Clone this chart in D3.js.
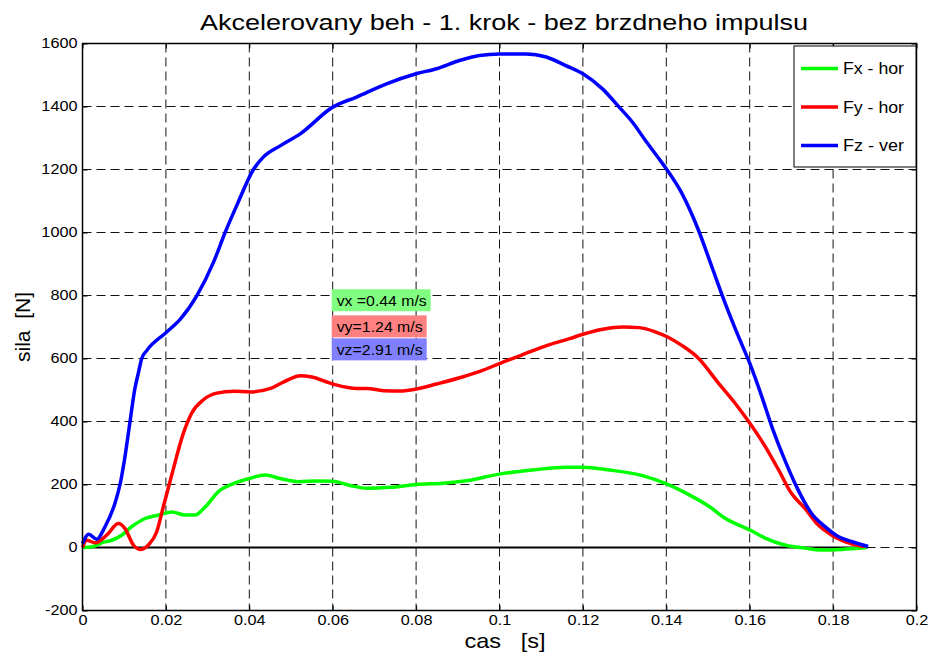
<!DOCTYPE html>
<html><head><meta charset="utf-8">
<script src="https://cdn.jsdelivr.net/npm/d3@7"></script>
<style>body{margin:0;background:#fff}svg{display:block;font-family:"Liberation Sans",Arial,sans-serif}</style>
</head><body><svg id="c" width="931" height="653"></svg>
<script>
// ---- data (time in ms, force in N) ----
const fxT = [0,2.2,4.6,7.0,9.4,11.8,15.0,18.2,21.4,24.6,27,29,33,36.2,40,43.8,47.4,51.8,56.3,60,64.2,68.2,73.8,80,86.5,92.1,100,108,116,120,126.4,134.3,140.2,145.5,150.3,154.1,160,163.7,168.4,173.2,177,182,188];
const fxV = [0,2,15,23,39,66,92,103,113,103,103,123,182,203,219,230,219,209,211,210,197,188,191,200,204,212,233,246,255,255,246,228,201,167,130,93,56,30,8,-2,-8,-6,0];
const fyT = [0,1.0,3.0,5.8,8.6,10.2,12.2,13.8,15.8,17.8,19.4,21.4,24.2,26.2,29,32.2,36.2,40.3,45.1,48.3,52.3,54.7,60,65.8,68.2,72.2,76.2,80,84.9,91.3,96.1,100,105.7,112,116.8,120,124.8,129.6,133.5,137.5,140.2,143.9,147.7,152.5,156.5,160,163.7,166.9,170,173.2,176.4,179.6,182.8,187.6];
const fyV = [0,23,15,39,76,60,8,-6,8,50,130,230,363,427,469,490,496,494,505,526,545,542,519,505,505,498,497,503,519,542,563,584,613,644,663,677,693,700,698,684,669,640,601,522,458,395,321,247,172,125,72,40,19,3];
const fzT = [0,1.5,3.4,5.4,7.8,9,10.2,11.4,12.5,13.5,14.2,15.4,20,23.4,27.4,31.4,34.2,37,41,43.4,47.4,52.2,60,65.7,72.9,80,84.9,90.4,95.2,100,106.4,111.2,115.9,120,124.7,128.7,131.9,135,138.2,140,143.7,147.7,150.9,154.1,157.3,160,162.9,165.3,168.4,171.6,174.8,178,181.2,184.4,188.4];
const fzV = [12,42,26,66,141,200,290,400,500,560,600,625,682,724,799,905,1000,1086,1200,1240,1275,1313,1398,1430,1472,1504,1520,1546,1562,1567,1567,1557,1530,1504,1456,1398,1350,1292,1235,1202,1125,1008,892,776,670,585,479,384,278,183,109,67,35,19,3];
const seriesNames = ["Fx - hor","Fy - hor","Fz - ver"];
const seriesColors = ["#00ff00","#ff0000","#0000ff"];
const xTicks = [0,0.02,0.04,0.06,0.08,0.1,0.12,0.14,0.16,0.18,0.2];
const yTicks = [-200,0,200,400,600,800,1000,1200,1400,1600];
const noteTexts = ["vx =0.44 m/s","vy=1.24 m/s","vz=2.91 m/s"];
const noteY = [785,702,629];
const noteFill = ["#80ff80","#ff8080","#8080ff"];
const titleText = "Akcelerovany beh - 1. krok - bez brzdneho impulsu";

// ---- layout ----
const svg = d3.select("#c");
const L = 82.5, R = 916.5, T = 43.5, B = 610.5;
const x = d3.scaleLinear().domain([0,0.2]).range([L,R]);
const y = d3.scaleLinear().domain([-200,1600]).range([B,T]);
const STRETCH = 1.16;
function stretch(sel, k){
  sel.each(function(){
    const w = this.getComputedTextLength();
    d3.select(this).attr("textLength", w*k).attr("lengthAdjust","spacingAndGlyphs");
  });
}

svg.append("rect").attr("width",931).attr("height",653).attr("fill","#fff");

// grid
const g = svg.append("g");
g.selectAll(".vg").data(xTicks.slice(1,-1)).join("line")
  .attr("x1",d=>x(d)).attr("x2",d=>x(d)).attr("y1",T).attr("y2",B)
  .attr("stroke","#111").attr("stroke-width",1).attr("stroke-dasharray","9,5");
g.selectAll(".hg").data(yTicks.slice(1,-1)).join("line")
  .attr("y1",d=>y(d)).attr("y2",d=>y(d)).attr("x1",L).attr("x2",R)
  .attr("stroke","#111").attr("stroke-width",1).attr("stroke-dasharray","9,5");

// axes with inward ticks
const xb = d3.axisBottom(x).tickValues(xTicks).tickSize(-5).tickPadding(5).tickFormat(d=>String(+d.toFixed(2)));
const yl = d3.axisLeft(y).tickValues(yTicks).tickSize(-5).tickPadding(5).tickFormat(d=>String(d));
const gx = svg.append("g").attr("transform",`translate(0,${B})`).call(xb);
const gy = svg.append("g").attr("transform",`translate(${L},0)`).call(yl);
svg.append("g").attr("transform",`translate(0,${T})`).call(d3.axisTop(x).tickValues(xTicks).tickSize(-5).tickFormat(""));
svg.append("g").attr("transform",`translate(${R},0)`).call(d3.axisRight(y).tickValues(yTicks).tickSize(-5).tickFormat(""));
svg.selectAll(".domain").remove();
svg.selectAll(".tick line").attr("stroke","#000");
[gx,gy].forEach(a=>{
  const t = a.selectAll("text").attr("font-size",14).attr("font-family","Liberation Sans, Arial, sans-serif").attr("fill","#000");
  stretch(t, STRETCH);
});

// zero reference line
svg.append("line").attr("x1",x(0)).attr("x2",x(0.1884)).attr("y1",y(0)).attr("y2",y(0))
  .attr("stroke","#000").attr("stroke-width",2);

// series
const line = d3.line().x(d=>x(d[0]/1000)).y(d=>y(d[1])).curve(d3.curveMonotoneX);
const data = [d3.zip(fxT,fxV), d3.zip(fyT,fyV), d3.zip(fzT,fzV)];
data.forEach((d,i)=>{
  svg.append("path").datum(d).attr("d",line).attr("fill","none")
    .attr("stroke",seriesColors[i]).attr("stroke-width",3.5).attr("stroke-linejoin","round");
});

// box
svg.append("rect").attr("x",L).attr("y",T).attr("width",R-L).attr("height",B-T)
  .attr("fill","none").attr("stroke","#000").attr("stroke-width",1.5);

// notes
const noteW = [90,86,86];
noteTexts.forEach((t,i)=>{
  const ng = svg.append("g");
  const bg = ng.append("rect").attr("fill",noteFill[i]);
  ng.append("text").attr("x",x(0.06)+4).attr("y",y(noteY[i])).attr("dy","0.36em")
    .attr("font-size",15).attr("fill","#000").text(t)
    .attr("textLength",noteW[i]).attr("lengthAdjust","spacingAndGlyphs");
  bg.attr("x",x(0.06)-1).attr("y",y(noteY[i])-11).attr("width",noteW[i]+9).attr("height",22);
});

// legend
const lg = svg.append("g");
lg.append("rect").attr("x",794).attr("y",46).attr("width",122).attr("height",121)
  .attr("fill","#fff").attr("stroke","#000").attr("stroke-width",1);
seriesNames.forEach((n,i)=>{
  const yy = 68.5 + i*38.5;
  lg.append("line").attr("x1",801).attr("x2",838).attr("y1",yy).attr("y2",yy)
    .attr("stroke",seriesColors[i]).attr("stroke-width",3.5);
  lg.append("text").attr("x",843).attr("y",yy).attr("dy","0.36em").attr("font-size",16)
    .attr("textLength",61).attr("lengthAdjust","spacingAndGlyphs").text(n);
});

// titles
svg.append("text").attr("x",504).attr("y",30).attr("text-anchor","middle").attr("font-size",22)
  .attr("textLength",608).attr("lengthAdjust","spacingAndGlyphs").text(titleText);
svg.append("text").attr("x",505).attr("y",648).attr("text-anchor","middle").attr("font-size",21)
  .attr("xml:space","preserve").attr("textLength",81).attr("lengthAdjust","spacingAndGlyphs").text("cas   [s]");
svg.append("text").attr("transform","translate(30,327) rotate(-90)").attr("text-anchor","middle").attr("font-size",21)
  .attr("xml:space","preserve").text("sila  [N]");
</script></body></html>
